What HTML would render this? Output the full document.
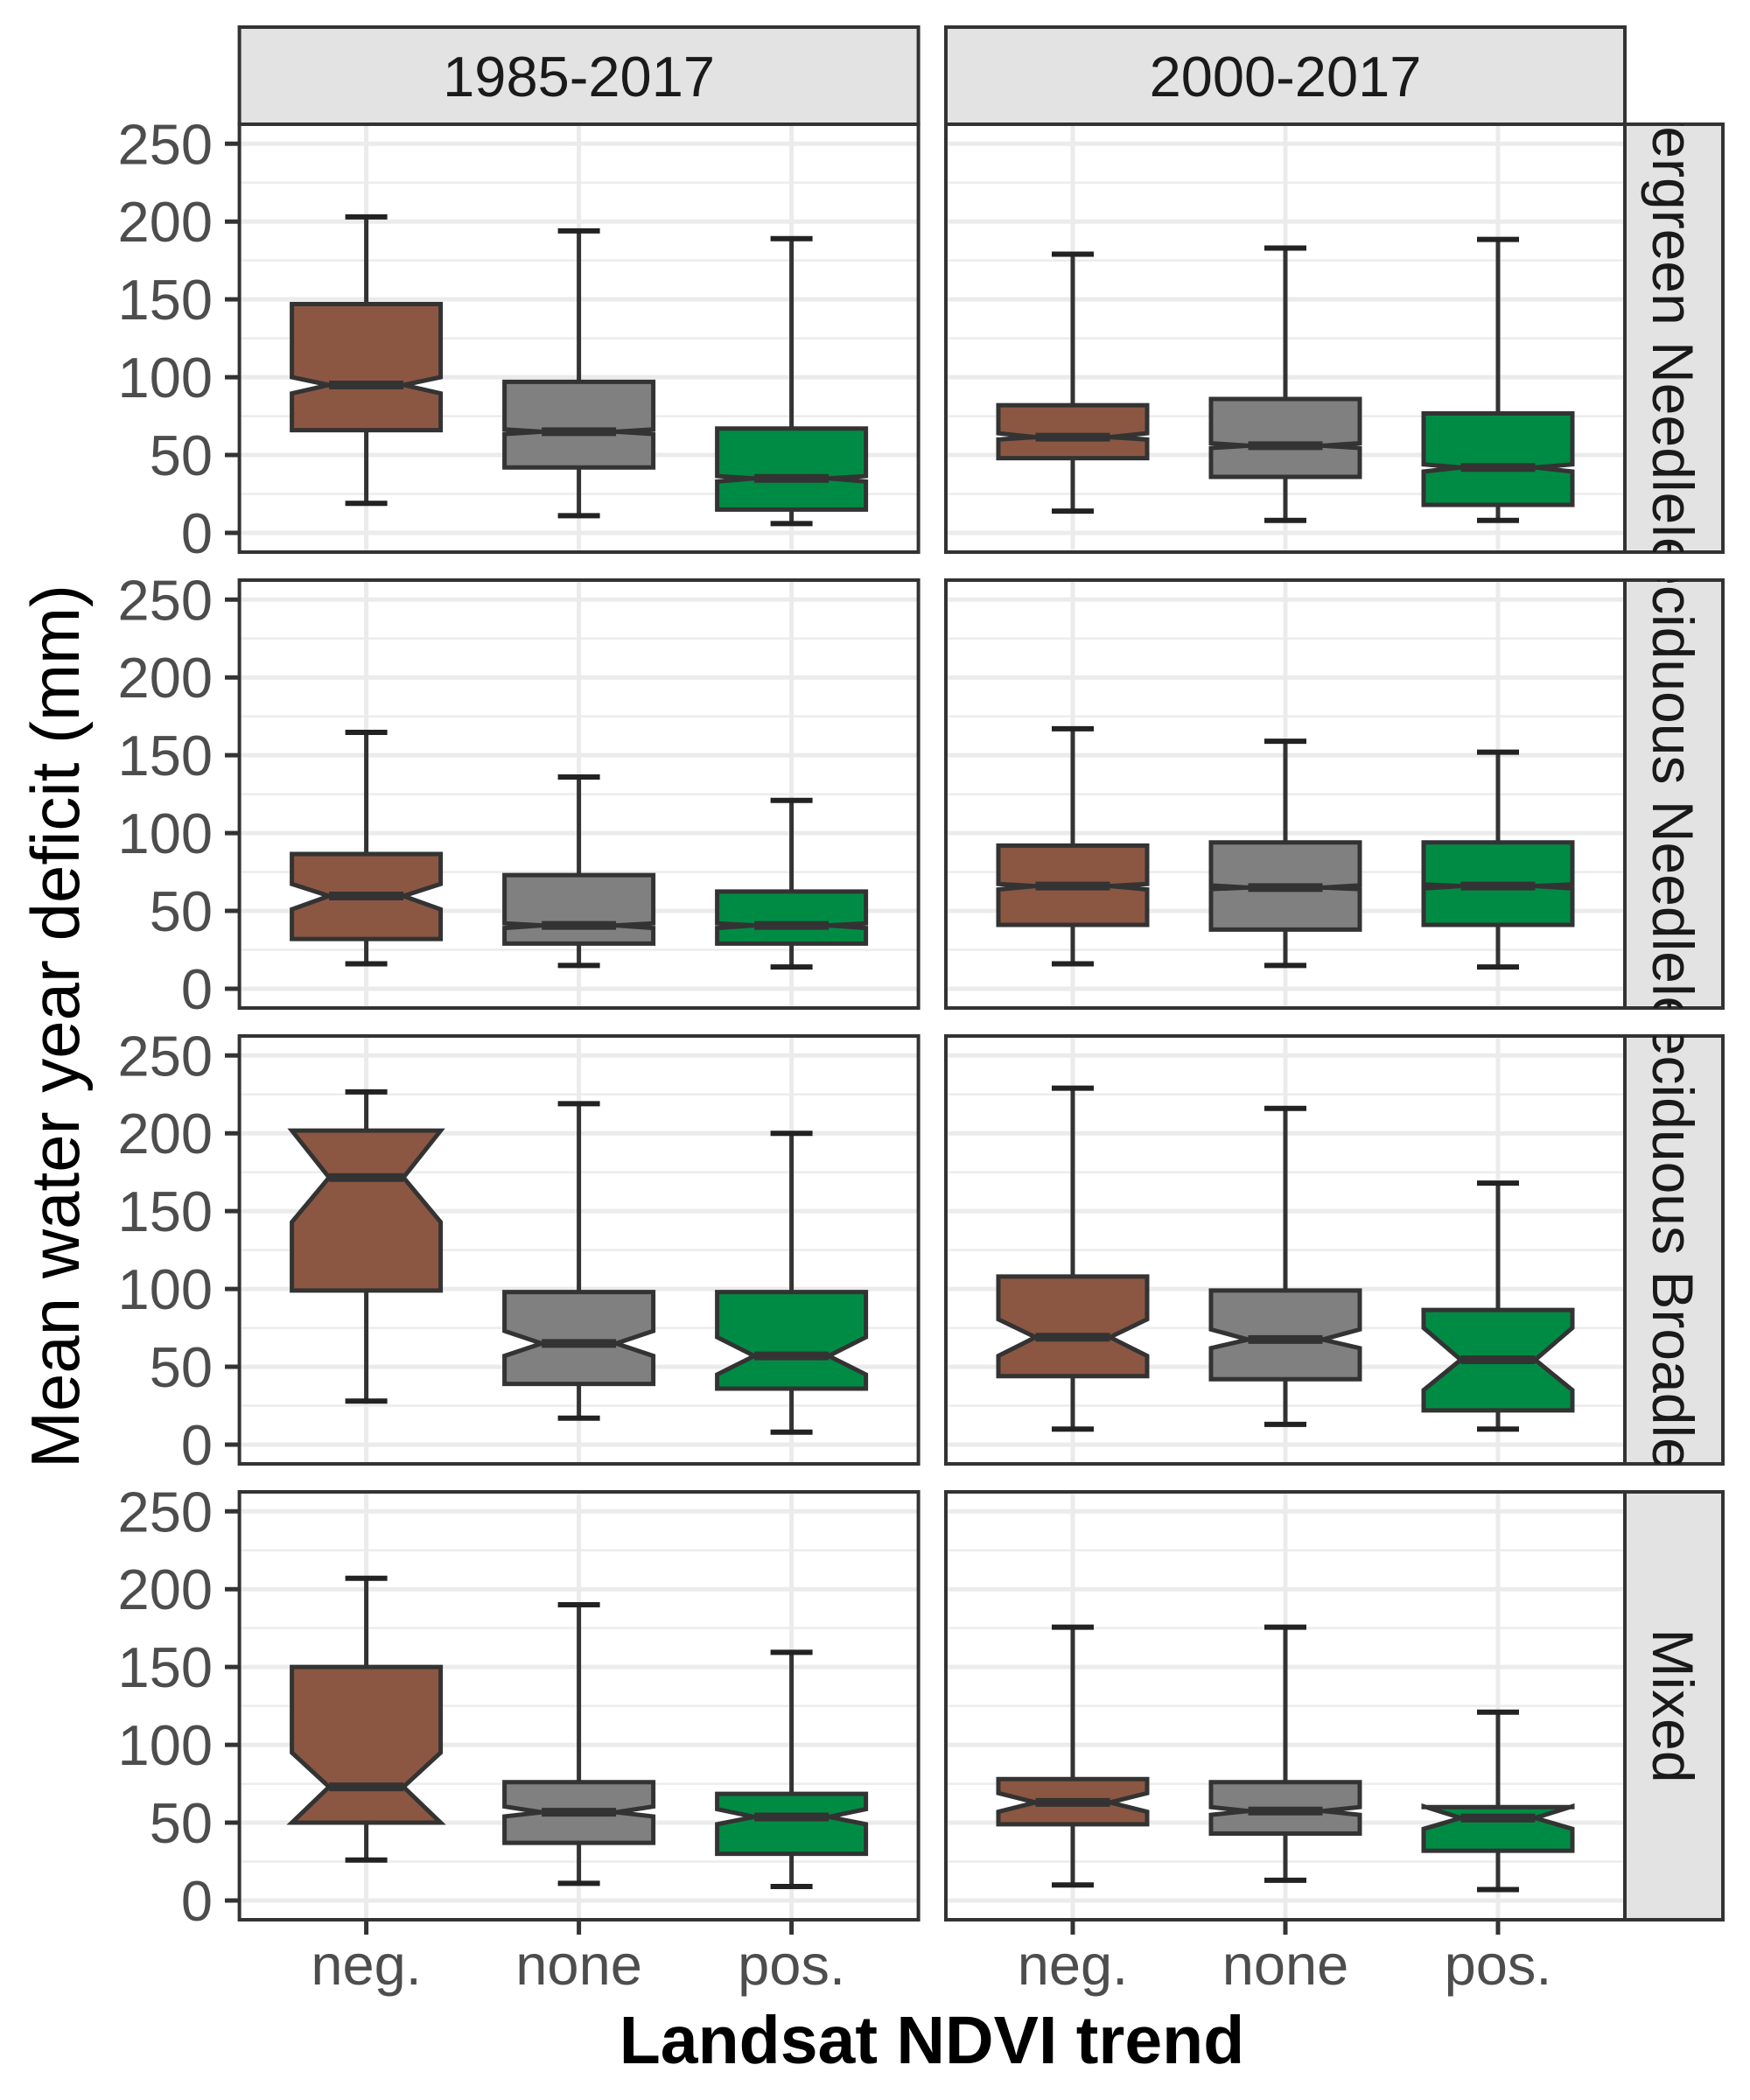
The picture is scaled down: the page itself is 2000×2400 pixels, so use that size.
<!DOCTYPE html>
<html><head><meta charset="utf-8">
<style>
html,body{margin:0;padding:0;background:#fff;}
svg{display:block;font-family:"Liberation Sans",Arial,sans-serif;}
</style></head>
<body>
<svg id="chart" width="2000" height="2400" viewBox="0 0 2000 2400" xmlns="http://www.w3.org/2000/svg">
<rect x="0" y="0" width="2000" height="2400" fill="#fff"/>
<defs>
 <clipPath id="cs0"><rect x="1857" y="142" width="112" height="489"/></clipPath>
 <clipPath id="cs1"><rect x="1857" y="663" width="112" height="489"/></clipPath>
 <clipPath id="cs2"><rect x="1857" y="1184" width="112" height="489"/></clipPath>
 <clipPath id="cs3"><rect x="1857" y="1705" width="112" height="489"/></clipPath>
</defs>
<g id="grid"></g>
<g id="marks"></g>
<g id="frames"></g>
<text x="0" y="0" transform="translate(90,1173) rotate(-90)" text-anchor="middle" font-size="78" fill="#000">Mean water year deficit (mm)</text>
<text x="1065" y="2358" text-anchor="middle" font-size="77" font-weight="bold" fill="#000">Landsat NDVI trend</text>
</svg>
<script>
// ---- data ----
const periods = ["1985-2017", "2000-2017"];
const forestTypes = ["Evergreen Needleleaf", "Deciduous Needleleaf", "Deciduous Broadleaf", "Mixed"];
const trends = ["neg.", "none", "pos."];
const yTicks = [0, 50, 100, 150, 200, 250];
const yMinor = [25, 75, 125, 175, 225];
// per panel (row-major: type x period), per trend: values
const whiskerLow = [
 [[19,11,6],[14,8,8]],
 [[16,15,14],[16,15,14]],
 [[28,17,8],[10,13,10]],
 [[26,11,9],[10,13,7]]
];
const q1 = [
 [[66,42,15],[48,36,18]],
 [[32,29,29],[41,38,41]],
 [[99,39,36],[44,42,22]],
 [[50,37,30],[49,43,32]]
];
const notchLow = [
 [[89.6,63.5,33],[60,54.5,39.4]],
 [[51,39,39],[63.8,64,64.4]],
 [[143,57,45],[57,62,35]],
 [[50,54,49],[57,55,46]]
];
const medians = [
 [[95,65,35],[61.5,56,42]],
 [[59.6,40.7,40.7],[66,65,66]],
 [[171.6,65,57],[69,67.5,54.5]],
 [[73,56.7,53.7],[63,57.5,53]]
];
const notchHigh = [
 [[100,66.5,36.5],[64,57.6,44]],
 [[67.3,42,42],[67.3,66.4,67]],
 [[201.7,73,69],[80.5,74,75]],
 [[95,60.4,58.7],[69,60,60.5]]
];
const q3 = [
 [[147,97,67],[82,86,76.7]],
 [[86.6,73,62.5],[92,94,94]],
 [[201.7,98,98],[108,99,86.5]],
 [[150,76,68.5],[78,76,60]]
];
const whiskerHigh = [
 [[203,194,189],[179,183,188.5]],
 [[164.7,136,121],[167,159,152]],
 [[226.6,219,200],[229,216,168]],
 [[207,190,159.4],[175.6,175.6,121]]
];
const fills = ["#8B5742", "#808080", "#008B45"];

// ---- layout ----
const NS = "http://www.w3.org/2000/svg";
const panelX = [273.6, 1081];
const panelW = 776;
const rowTop = [142, 663, 1184, 1705];
const panelH = 489;
const zeroOff = 467;
const unit = 1.779;
const boxHalf = 85, capHalf = 24;
const SW = 5;
function xScale(p, i) { return panelX[p] + panelW / 2 + (i - 1) * 243; }
function yScale(r, v) { return rowTop[r] + zeroOff - v * unit; }

function mk(tag, attrs, parent) {
  const e = document.createElementNS(NS, tag);
  for (const k in attrs) e.setAttribute(k, attrs[k]);
  parent.appendChild(e);
  return e;
}
const grid = document.getElementById("grid");
const marks = document.getElementById("marks");
const frames = document.getElementById("frames");

periods.forEach((p, pi) => {
  const s = mk("rect", {x: panelX[pi], y: 31, width: panelW, height: 111, fill: "#e3e3e3", stroke: "#333", "stroke-width": 4}, frames);
  
  
  const t = mk("text", {x: panelX[pi] + panelW / 2, y: 110, "text-anchor": "middle", "font-size": 65, fill: "#1a1a1a"}, frames);
  t.textContent = p;
  
  
});

forestTypes.forEach((ft, r) => {
  const top = rowTop[r];
  const s = mk("rect", {x: 1857, y: top, width: 112, height: panelH, fill: "#e3e3e3", stroke: "#333", "stroke-width": 4}, frames);
  
  
  const g = mk("g", {"clip-path": "url(#cs" + r + ")"}, frames);
  const t = mk("text", {x: 0, y: 0, transform: "translate(1889," + (top + panelH / 2) + ") rotate(90)", "text-anchor": "middle", "font-size": 66, fill: "#1a1a1a"}, g);
  t.textContent = ft;
  
  

  yTicks.forEach(v => {
    const y = yScale(r, v);
    const tl = mk("text", {x: 243, y: y + 23, "text-anchor": "end", "font-size": 65, fill: "#4d4d4d"}, frames);
    tl.textContent = v;
    
    
    const tm = mk("line", {x1: 257, x2: 273.6, y1: y, y2: y, stroke: "#333", "stroke-width": SW}, frames);
    
    
  });

  periods.forEach((p, pi) => {
    const x0 = panelX[pi];
    yMinor.forEach(v => {
      const y = yScale(r, v);
      mk("line", {x1: x0, x2: x0 + panelW, y1: y, y2: y, stroke: "#ececec", "stroke-width": 2.5}, grid);
    });
    yTicks.forEach(v => {
      const y = yScale(r, v);
      mk("line", {x1: x0, x2: x0 + panelW, y1: y, y2: y, stroke: "#ebebeb", "stroke-width": 5}, grid);
    });
    trends.forEach((tr, i) => {
      const x = xScale(pi, i);
      mk("line", {x1: x, x2: x, y1: top, y2: top + panelH, stroke: "#ebebeb", "stroke-width": 5}, grid);
    });
    trends.forEach((tr, i) => {
      const x = xScale(pi, i);
      const bg = mk("g", {}, marks);
      
      
      const yLo = yScale(r, whiskerLow[r][pi][i]);
      const yHi = yScale(r, whiskerHigh[r][pi][i]);
      const yQ1 = yScale(r, q1[r][pi][i]);
      const yQ3 = yScale(r, q3[r][pi][i]);
      const yM = yScale(r, medians[r][pi][i]);
      const yNL = yScale(r, notchLow[r][pi][i]);
      const yNH = yScale(r, notchHigh[r][pi][i]);
      mk("line", {x1: x, x2: x, y1: yHi, y2: yQ3, stroke: "#333", "stroke-width": SW}, bg);
      mk("line", {x1: x, x2: x, y1: yQ1, y2: yLo, stroke: "#333", "stroke-width": SW}, bg);
      mk("line", {x1: x - capHalf, x2: x + capHalf, y1: yHi, y2: yHi, stroke: "#222", "stroke-width": 6}, bg);
      mk("line", {x1: x - capHalf, x2: x + capHalf, y1: yLo, y2: yLo, stroke: "#222", "stroke-width": 6}, bg);
      const L = x - boxHalf, R = x + boxHalf, nh = boxHalf / 2;
      const pts = [[L, yQ3], [R, yQ3], [R, yNH], [x + nh, yM], [R, yNL], [R, yQ1], [L, yQ1], [L, yNL], [x - nh, yM], [L, yNH]];
      mk("polygon", {points: pts.map(a => a.join(",")).join(" "), fill: fills[i], stroke: "#333", "stroke-width": SW, "stroke-linejoin": "miter"}, bg);
      mk("line", {x1: x - nh, x2: x + nh, y1: yM, y2: yM, stroke: "#333", "stroke-width": 10}, bg);
    });
    const fr = mk("rect", {x: x0, y: top, width: panelW, height: panelH, fill: "none", stroke: "#333", "stroke-width": 4}, frames);
    
    
  });
});

periods.forEach((p, pi) => {
  trends.forEach((tr, i) => {
    const x = xScale(pi, i);
    const tm = mk("line", {x1: x, x2: x, y1: 2194, y2: 2211, stroke: "#333", "stroke-width": SW}, frames);
    
    
    const tl = mk("text", {x: x, y: 2268, "text-anchor": "middle", "font-size": 65, fill: "#4d4d4d"}, frames);
    tl.textContent = tr;
    
    
  });
});
</script>
</body></html>
